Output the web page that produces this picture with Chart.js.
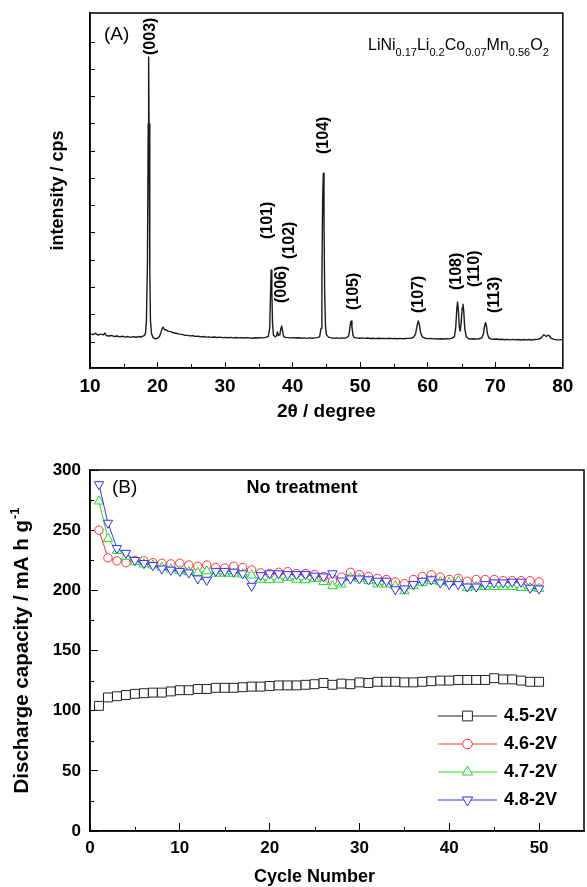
<!DOCTYPE html>
<html>
<head>
<meta charset="utf-8">
<script src="https://cdn.jsdelivr.net/npm/chart.js@4.4.0/dist/chart.umd.min.js"></script>
<style>
  body { margin: 0; background: #fff; }
  #wrap { position: relative; width: 587px; height: 887px; }
  canvas { position: absolute; left: 0; }
  #xrd { top: 0; }
  #cyc { top: 440px; }
</style>
</head>
<body>
<div id="wrap">
  <canvas id="xrd" width="587" height="440"></canvas>
  <canvas id="cyc" width="587" height="447"></canvas>
</div>
<script>
// ---- (A) XRD scan: [2theta, counts] ----
const xrdScan = [
  [10.0,1300],[10.4,1270],[10.8,1320],[11.2,1250],[11.6,1290],[12.0,1260],[12.2,1330],[12.4,1240],
  [12.8,1220],[13.2,1240],[13.6,1200],[14.0,1220],[14.4,1190],[14.8,1210],[15.2,1180],[15.6,1200],
  [16.0,1170],[16.4,1195],[16.8,1175],[17.2,1200],[17.6,1185],[18.0,1230],[18.2,1300],[18.35,1750],
  [18.5,3800],[18.62,9000],[18.68,11450],[18.74,9000],[18.85,3700],[18.95,1800],[19.1,1320],[19.3,1180],
  [19.6,1120],[20.0,1140],[20.3,1210],[20.5,1350],[20.7,1510],[20.85,1540],[21.0,1460],[21.3,1440],
  [21.6,1390],[22.0,1380],[22.4,1330],[22.8,1320],[23.2,1290],[23.6,1280],[24.0,1250],[24.4,1245],
  [24.8,1225],[25.2,1230],[25.6,1205],[26.0,1210],[26.4,1190],[26.8,1200],[27.2,1180],[27.6,1190],
  [28.0,1170],[28.4,1185],[28.8,1165],[29.2,1180],[29.6,1160],[30.0,1170],[30.4,1155],[30.8,1170],
  [31.2,1150],[31.6,1165],[32.0,1150],[32.4,1160],[32.8,1145],[33.2,1160],[33.6,1150],[34.0,1140],
  [34.4,1155],[34.8,1145],[35.2,1160],[35.6,1150],[36.0,1170],[36.4,1210],[36.6,1500],[36.72,2700],
  [36.82,3640],[36.92,2900],[37.02,1700],[37.15,1260],[37.4,1190],[37.6,1220],[37.75,1370],[37.9,1240],
  [38.1,1260],[38.25,1480],[38.38,1590],[38.5,1420],[38.65,1220],[38.9,1170],[39.3,1160],[39.7,1150],
  [40.1,1160],[40.5,1145],[40.9,1155],[41.3,1140],[41.7,1150],[42.1,1135],[42.5,1150],[42.9,1140],
  [43.3,1150],[43.7,1160],[44.0,1200],[44.2,1500],[44.33,3300],[44.44,6200],[44.54,7190],[44.64,5600],
  [44.74,2800],[44.86,1600],[45.0,1270],[45.3,1180],[45.7,1150],[46.1,1140],[46.5,1150],[46.9,1135],
  [47.3,1150],[47.7,1140],[48.0,1160],[48.3,1230],[48.45,1460],[48.58,1720],[48.68,1770],[48.78,1560],
  [48.92,1260],[49.1,1165],[49.5,1150],[49.9,1140],[50.3,1150],[50.7,1135],[51.1,1145],[51.5,1130],
  [51.9,1140],[52.3,1125],[52.7,1140],[53.1,1130],[53.5,1135],[53.9,1125],[54.3,1140],[54.7,1125],
  [55.1,1130],[55.5,1120],[55.9,1135],[56.3,1120],[56.7,1130],[57.1,1135],[57.5,1140],[57.9,1170],
  [58.2,1300],[58.42,1600],[58.6,1770],[58.76,1640],[58.95,1340],[59.2,1190],[59.6,1140],[60.0,1125],
  [60.4,1130],[60.8,1115],[61.2,1125],[61.6,1110],[62.0,1120],[62.4,1110],[62.8,1120],[63.2,1115],
  [63.6,1140],[63.95,1200],[64.15,1550],[64.3,2200],[64.42,2470],[64.54,2150],[64.68,1550],[64.8,1400],
  [64.95,1700],[65.1,2250],[65.22,2390],[65.34,2100],[65.48,1500],[65.7,1200],[66.0,1130],[66.4,1110],
  [66.8,1120],[67.2,1105],[67.6,1120],[68.0,1150],[68.25,1300],[68.42,1600],[68.56,1710],[68.68,1600],
  [68.84,1300],[69.05,1150],[69.4,1110],[69.8,1100],[70.2,1110],[70.6,1090],[71.0,1100],[71.4,1085],
  [71.8,1095],[72.2,1080],[72.6,1095],[73.0,1080],[73.4,1090],[73.8,1075],[74.2,1090],[74.6,1080],
  [75.0,1090],[75.4,1075],[75.8,1090],[76.2,1095],[76.6,1120],[76.9,1180],[77.15,1260],[77.35,1240],
  [77.55,1200],[77.8,1250],[78.0,1230],[78.3,1130],[78.7,1095],[79.1,1085],[79.5,1080],[80.0,1090]
];

// hkl labels, anchored at the bottom of the rotated text (2theta, counts)
const peakLabels = [
  { hkl: "(003)", x: 18.93, y: 11524 },
  { hkl: "(101)", x: 36.36, y: 4777 },
  { hkl: "(006)", x: 38.37, y: 2430 },
  { hkl: "(102)", x: 39.53, y: 4044 },
  { hkl: "(104)", x: 44.57, y: 7894 },
  { hkl: "(105)", x: 49.03, y: 2173 },
  { hkl: "(107)", x: 58.68, y: 2063 },
  { hkl: "(108)", x: 64.2, y: 2907 },
  { hkl: "(110)", x: 66.9, y: 3017 },
  { hkl: "(113)", x: 69.9, y: 2063 }
];

const xrdXTicks = [10, 20, 30, 40, 50, 60, 70, 80];
const xrdXMinor = [15, 25, 35, 45, 55, 65, 75];
const xrdYTicks = [1000, 2000, 3000, 4000, 5000, 6000, 7000, 8000, 9000, 10000, 11000, 12000];

// ---- (B) discharge capacity vs cycle ----
const cycles = [1,2,3,4,5,6,7,8,9,10,11,12,13,14,15,16,17,18,19,20,21,22,23,24,25,
  26,27,28,29,30,31,32,33,34,35,36,37,38,39,40,41,42,43,44,45,46,47,48,49,50];
const seriesNames = ["4.5-2V", "4.6-2V", "4.7-2V", "4.8-2V"];
const cap45 = [104,111,112,113,114,114.5,115,115,116,117,117,118,118,119,119,119,119.5,120,120,120.5,
  121,121,121,121.5,122,123,121.5,122.5,122,123.5,123,124,124,124,123.5,123.5,124,124.5,125,125,
  125.5,125.5,125.5,125.5,127,126,126,125,124,124];
const cap46 = [250,227,224.5,223,225,224.5,223,222.5,222,222.5,221,220,221,219,218.5,220,219,217,214.5,214,
  215,215.5,214,214,213,211.5,208,211,215,213,211.5,210,209,207,205.5,209,211.5,213,211,209,
  210,207.5,209,209,209,208,208,208,208,207];
const cap47 = [274,243,233,228,223.6,221.7,220.8,219,217.5,216,215.3,214.7,216,214,214,214,213.3,212.5,209,208.6,
  209,210.5,209,208.6,209.7,207,203.6,205,210.5,209.7,207.8,205,205,203.6,199.4,203.6,206.4,207.8,207,206.4,
  207.8,202,203,203,203,203,203,202,202,201.4];
const cap48 = [288,256,235,231,225,222.5,220.8,218,217,216,214.7,209.7,208.6,216,216,215.3,214,203.6,212.5,214,
  214,213.3,213.3,213.3,212,211.4,214,208,209.7,209.7,209,207.8,207.8,200.8,201.4,205,207.8,209,206.4,205,
  205,203,203,205,206.4,206.4,207,207,202,201.4];
const cycXTicks = [0, 10, 20, 30, 40, 50];
const cycXMinor = [5, 15, 25, 35, 45];
const capYTicks = [0, 50, 100, 150, 200, 250, 300];
const capYMinor = [25, 75, 125, 175, 225, 275];

// ---- styles ----
const FAMILY = '"Liberation Sans", Arial, sans-serif';
const font = (weight, size) => `${weight} ${size}px ${FAMILY}`;
Chart.defaults.font.family = FAMILY;
Chart.defaults.color = "#000";

const lineColors = ["#222222", "#ff3030", "#22dd22", "#3030ff"];
const markStyles = ["rect", "circle", "triangle", "triangle"];
const markRotation = [0, 0, 0, 180];
const markRadius = [6.3, 4.2, 5.4, 5.4];

// frame (top/right) and short minor ticks
function drawFrame(chart, minorX, minorY) {
  const { ctx, chartArea: a, scales } = chart;
  ctx.save();
  ctx.strokeStyle = "#000";
  ctx.lineWidth = 1.5;
  ctx.strokeRect(a.left, a.top, a.right - a.left, a.bottom - a.top);
  ctx.lineWidth = 1;
  ctx.beginPath();
  minorX.forEach(v => {
    const x = Math.round(scales.x.getPixelForValue(v)) + 0.5;
    ctx.moveTo(x, a.bottom);
    ctx.lineTo(x, a.bottom - 4);
  });
  minorY.forEach(v => {
    const y = Math.round(scales.y.getPixelForValue(v)) + 0.5;
    ctx.moveTo(a.left, y);
    ctx.lineTo(a.left + 4, y);
  });
  ctx.stroke();
  ctx.restore();
}

const xrdDecor = {
  id: "xrdDecor",
  afterDatasetsDraw(chart) {
    const { ctx, scales } = chart;
    drawFrame(chart, xrdXMinor, []);
    ctx.save();
    ctx.fillStyle = "#000";
    // hkl labels
    ctx.font = font("bold", 16);
    ctx.textAlign = "left";
    ctx.textBaseline = "middle";
    peakLabels.forEach(p => {
      ctx.save();
      ctx.translate(scales.x.getPixelForValue(p.x), scales.y.getPixelForValue(p.y));
      ctx.rotate(-Math.PI / 2);
      ctx.fillText(p.hkl, 0, 0);
      ctx.restore();
    });
    // panel tag
    ctx.font = font("normal", 19);
    ctx.fillText("(A)", 104, 35);
    // formula with subscripts
    const parts = [["LiNi", "0.17"], ["Li", "0.2"], ["Co", "0.07"], ["Mn", "0.56"], ["O", "2"]];
    let x = 368;
    ctx.textBaseline = "alphabetic";
    parts.forEach(([main, sub]) => {
      ctx.font = font("normal", 16);
      ctx.fillText(main, x, 50);
      x += ctx.measureText(main).width;
      ctx.font = font("normal", 11);
      ctx.fillText(sub, x, 56);
      x += ctx.measureText(sub).width;
    });
    ctx.restore();
  }
};

new Chart(document.getElementById("xrd"), {
  type: "line",
  data: {
    datasets: [{
      data: xrdScan.map(([t, c]) => ({ x: t, y: c })),
      borderColor: "#1a1a1a",
      borderWidth: 1.4,
      borderJoinStyle: "round",
      pointRadius: 0,
      tension: 0
    }]
  },
  options: {
    responsive: false,
    animation: false,
    layout: { autoPadding: false, padding: { left: 0, right: 11, top: 13, bottom: 0 } },
    plugins: { legend: { display: false }, tooltip: { enabled: false } },
    scales: {
      x: {
        type: "linear", min: 10, max: 80,
        afterBuildTicks: s => { s.ticks = xrdXTicks.map(v => ({ value: v })); },
        afterFit: s => { s.height = 72; },
        ticks: { font: { size: 19, weight: "bold" }, padding: 13.6, maxRotation: 0, autoSkip: false },
        grid: { drawOnChartArea: false, tickLength: -6, color: "#000" },
        border: { color: "#000", width: 1.5 },
        title: { display: true, text: "2θ / degree", font: { size: 19, weight: "bold" }, padding: { top: 0, bottom: 16.6 } }
      },
      y: {
        type: "linear", min: 47, max: 13064,
        afterBuildTicks: s => { s.ticks = xrdYTicks.map(v => ({ value: v })); },
        afterFit: s => { s.width = 90; },
        ticks: { display: false },
        grid: { drawOnChartArea: false, tickLength: -5, color: "#000" },
        border: { color: "#000", width: 1.5 },
        title: { display: true, text: "intensity / cps", font: { size: 18, weight: "bold" }, padding: { top: 47, bottom: 0 } }
      }
    }
  },
  plugins: [xrdDecor]
});

const cycDecor = {
  id: "cycDecor",
  afterDatasetsDraw(chart) {
    const { ctx, scales } = chart;
    drawFrame(chart, cycXMinor, capYMinor);
    ctx.save();
    ctx.fillStyle = "#000";
    ctx.textBaseline = "middle";
    ctx.textAlign = "left";
    ctx.font = font("normal", 19);
    ctx.fillText("(B)", 112, 48);
    ctx.font = font("bold", 18);
    ctx.textAlign = "center";
    ctx.fillText("No treatment", 302, 48);
    // legend
    ctx.textAlign = "left";
    chart.data.datasets.forEach((ds, i) => {
      const y = 276 + i * 28;
      ctx.strokeStyle = ds.borderColor;
      ctx.lineWidth = 1;
      ctx.beginPath();
      ctx.moveTo(438, y);
      ctx.lineTo(497, y);
      ctx.stroke();
      ctx.fillStyle = "#fff";
      Chart.helpers.drawPoint(ctx, {
        pointStyle: ds.pointStyle, radius: ds.pointRadius + 0.6,
        rotation: ds.pointRotation, borderWidth: 1
      }, 467.5, y);
      ctx.fillStyle = "#000";
      ctx.font = font("bold", 18);
      ctx.fillText(ds.label, 504, y);
    });
    // axis titles
    ctx.textAlign = "center";
    ctx.font = font("bold", 18);
    ctx.fillText("Cycle Number", scales.x.getPixelForValue(25), 437);
    ctx.save();
    ctx.translate(22, 211);
    ctx.rotate(-Math.PI / 2);
    const main = "Discharge capacity / mA h g";
    const sup = "-1";
    ctx.font = font("bold", 20.5);
    const wm = ctx.measureText(main).width;
    ctx.font = font("bold", 13);
    const ws = ctx.measureText(sup).width;
    ctx.textAlign = "left";
    ctx.font = font("bold", 20.5);
    ctx.fillText(main, -(wm + ws) / 2, 0);
    ctx.font = font("bold", 13);
    ctx.fillText(sup, -(wm + ws) / 2 + wm + 1, -7);
    ctx.restore();
    ctx.restore();
  }
};

const capSeries = [cap45, cap46, cap47, cap48];
new Chart(document.getElementById("cyc"), {
  type: "line",
  data: {
    datasets: capSeries.map((vals, i) => ({
      label: seriesNames[i],
      data: cycles.map((c, k) => ({ x: c, y: vals[k] })),
      borderColor: lineColors[i],
      borderWidth: 1,
      pointStyle: markStyles[i],
      pointRotation: markRotation[i],
      pointRadius: markRadius[i],
      pointBorderWidth: 1,
      pointBorderColor: lineColors[i],
      pointBackgroundColor: "#fff",
      tension: 0,
      order: 3 - i
    }))
  },
  options: {
    responsive: false,
    animation: false,
    layout: { autoPadding: false, padding: { left: 0, right: 3, top: 30, bottom: 0 } },
    plugins: { legend: { display: false }, tooltip: { enabled: false } },
    scales: {
      x: {
        type: "linear", min: 0, max: 55,
        afterBuildTicks: s => { s.ticks = cycXTicks.map(v => ({ value: v })); },
        afterFit: s => { s.height = 56; },
        ticks: { font: { size: 17, weight: "bold" }, padding: 14.8, maxRotation: 0, autoSkip: false },
        grid: { drawOnChartArea: false, tickLength: -8, color: "#000" },
        border: { color: "#000", width: 1.5 }
      },
      y: {
        type: "linear", min: 0, max: 300,
        afterBuildTicks: s => { s.ticks = capYTicks.map(v => ({ value: v })); },
        afterFit: s => { s.width = 90; },
        ticks: { font: { size: 17, weight: "bold" }, padding: 17 },
        grid: { drawOnChartArea: false, tickLength: -8, color: "#000" },
        border: { color: "#000", width: 1.5 }
      }
    }
  },
  plugins: [cycDecor]
});
</script>
</body>
</html>
